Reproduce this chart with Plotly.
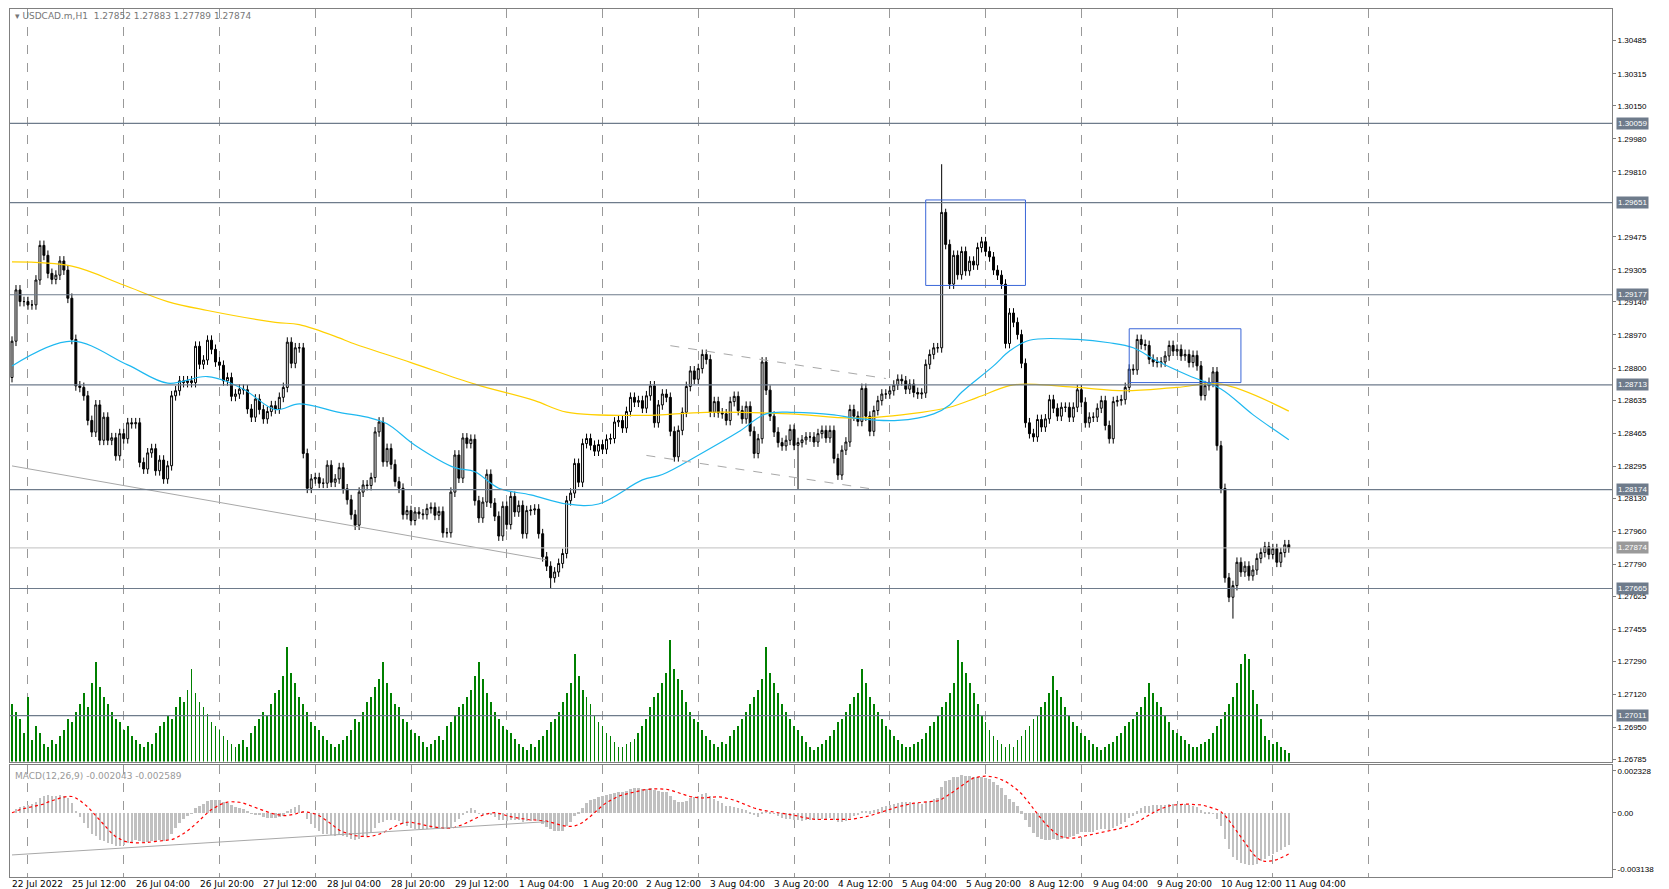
import plotly.graph_objects as go
from plotly.subplots import make_subplots
import pandas as pd

# USDCAD H1 closes (bar 0 = 22 Jul 2022)
first_open = 1.28751
closes = [
    # 22 Jul - 26 Jul
    1.28938, 1.29202, 1.29142, 1.29142, 1.29125, 1.29125, 1.29253, 1.29431, 1.29380, 1.29287,
    1.29256, 1.29278, 1.29351, 1.29304, 1.29159, 1.28947, 1.28708, 1.28700, 1.28657, 1.28530,
    1.28470, 1.28610, 1.28428, 1.28547, 1.28428, 1.28441, 1.28348, 1.28462, 1.28436, 1.28518,
    1.28513, 1.28518, 1.28314, 1.28280, 1.28363, 1.28385, 1.28271, 1.28326, 1.28229, 1.28297,
    1.28657, 1.28683, 1.28734, 1.28725, 1.28734, 1.28725, 1.28912, 1.28819, 1.28841, 1.28943,
    1.28896, 1.28831, 1.28814, 1.28734, 1.28751, 1.28654, 1.28666, 1.28691, 1.28688, 1.28589,
    1.28547, 1.28640, 1.28586, 1.28538, 1.28576, 1.28606, 1.28589, 1.28649, 1.28700, 1.28933,
    1.28824, 1.28904, 1.28904, 1.28360, 1.28181, 1.28229, 1.28236, 1.28207, 1.28207, 1.28300,
    1.28212, 1.28229,
    # 28 Jul - 2 Aug
    1.28287, 1.28178, 1.28122, 1.28045, 1.27991, 1.28161, 1.28198, 1.28195, 1.28236, 1.28471,
    1.28522, 1.28317, 1.28386, 1.28304, 1.28215, 1.28181, 1.28045, 1.28066, 1.28015, 1.28059,
    1.28049, 1.28045, 1.28076, 1.28083, 1.28042, 1.28062, 1.27952, 1.27952, 1.28161, 1.28352,
    1.28233, 1.28440, 1.28411, 1.28433, 1.28117, 1.28028, 1.28110, 1.28253, 1.28105, 1.28037,
    1.27935, 1.28088, 1.27994, 1.28139, 1.28059, 1.28093, 1.27947, 1.28066, 1.28069, 1.28074,
    1.27947, 1.27828, 1.27780, 1.27720, 1.27750, 1.27794, 1.27845, 1.28117, 1.28156, 1.28309,
    1.28212, 1.28411, 1.28437, 1.28402, 1.28372, 1.28406, 1.28382, 1.28433, 1.28437, 1.28522,
    1.28530, 1.28491, 1.28576, 1.28649, 1.28624, 1.28632, 1.28593,
    # 2 Aug - 5 Aug
    1.28657, 1.28708, 1.28518, 1.28610, 1.28666, 1.28649, 1.28474, 1.28343, 1.28479, 1.28572,
    1.28705, 1.28785, 1.28742, 1.28797, 1.28870, 1.28844, 1.28572, 1.28627, 1.28569, 1.28564,
    1.28530, 1.28627, 1.28654, 1.28581, 1.28538, 1.28603, 1.28474, 1.28360, 1.28436, 1.28831,
    1.28686, 1.28552, 1.28470, 1.28416, 1.28399, 1.28428, 1.28484, 1.28402, 1.28416, 1.28430,
    1.28445, 1.28445, 1.28419, 1.28462, 1.28479, 1.28440, 1.28479, 1.28334, 1.28249, 1.28377,
    1.28419, 1.28586, 1.28552, 1.28525, 1.28695, 1.28552, 1.28474, 1.28581, 1.28632, 1.28666,
    1.28666, 1.28683, 1.28712, 1.28742, 1.28734, 1.28691, 1.28717, 1.28674, 1.28666, 1.28671,
    1.28819, 1.28870, 1.28904, 1.28904, 1.29601, 1.29436,
    # 5 Aug - 10 Aug
    1.29232, 1.29380, 1.29280, 1.29400, 1.29300, 1.29350, 1.29330, 1.29420, 1.29450, 1.29400,
    1.29372, 1.29304, 1.29278, 1.29232, 1.28926, 1.29083, 1.29035, 1.28972, 1.28824, 1.28518,
    1.28462, 1.28445, 1.28535, 1.28496, 1.28538, 1.28637, 1.28593, 1.28552, 1.28598, 1.28598,
    1.28547, 1.28598, 1.28688, 1.28624, 1.28518, 1.28547, 1.28547, 1.28593, 1.28632, 1.28504,
    1.28436, 1.28627, 1.28632, 1.28637, 1.28700, 1.28794, 1.28790, 1.28947, 1.28921, 1.28916,
    1.28845, 1.28831, 1.28828, 1.28831, 1.28862, 1.28916, 1.28887, 1.28896, 1.28862, 1.28870,
    1.28828, 1.28865, 1.28811, 1.28658, 1.28709, 1.28726, 1.28780,
    # 10 Aug - 11 Aug
    1.28400, 1.28180, 1.27720, 1.27620, 1.27680, 1.27800, 1.27750, 1.27780, 1.27730, 1.27760,
    1.27820, 1.27850, 1.27880, 1.27840, 1.27870, 1.27800, 1.27850, 1.27890, 1.27874,
]
wick = 0.00025
high_marks = {233: 1.29849, 234: 1.29620}
low_marks = {135: 1.27665, 306: 1.27510, 197: 1.28174}

volumes = [40, 35, 30, 20, 45, 15, 25, 20, 12,
    10, 15, 12, 18, 22, 30, 28, 35, 40, 48, 38, 55, 70, 52, 45, 40, 35, 30, 28, 22, 25, 18, 15, 12,
    10, 14, 12, 20, 25, 28, 32, 30, 38, 45, 42, 50, 65, 48, 42, 38, 33, 28, 25, 22, 18, 15, 12, 10,
    12, 15, 10, 20, 25, 30, 35, 32, 40, 48, 50, 60, 80, 62, 55, 45, 40, 35, 28, 25, 22, 18, 15, 12,
    10, 12, 15, 18, 22, 30, 28, 35, 42, 45, 52, 58, 70, 55, 48, 40, 38, 30, 28, 22, 20, 18, 14, 10,
    12, 15, 18, 15, 25, 28, 32, 38, 40, 45, 50, 60, 70, 58, 48, 42, 35, 30, 25, 22, 20, 16, 12, 10,
    8, 12, 10, 15, 18, 22, 28, 30, 35, 42, 48, 55, 75, 60, 50, 45, 40, 32, 28, 25, 20, 18, 14, 10,
    10, 12, 14, 16, 20, 25, 30, 38, 45, 48, 55, 62, 85, 65, 58, 50, 42, 35, 30, 28, 22, 18, 15, 12,
    10, 14, 12, 18, 22, 25, 30, 35, 40, 45, 50, 58, 80, 62, 55, 48, 40, 35, 30, 25, 22, 18, 14, 10,
    8, 10, 12, 15, 18, 22, 28, 30, 35, 40, 45, 48, 65, 55, 45, 40, 35, 30, 25, 22, 18, 15, 12, 10,
    10, 12, 14, 16, 20, 25, 28, 32, 38, 42, 48, 55, 85, 70, 62, 55, 48, 40, 32, 28, 22, 18, 15, 12,
    10, 12, 10, 15, 18, 22, 25, 30, 32, 38, 42, 48, 60, 50, 45, 38, 32, 28, 25, 20, 18, 15, 12, 10,
    8, 10, 12, 14, 18, 20, 25, 28, 30, 35, 38, 45, 55, 48, 42, 38, 32, 28, 22, 20, 18, 15, 12, 10,
    10, 12, 14, 16, 20, 25, 30, 35, 40, 45, 55, 68, 75, 72, 50, 40, 30, 18, 15, 12, 14, 10, 8, 6]

# moving averages
ma_fast_bars = [0, 15, 29, 39, 49, 58, 66, 72, 82, 89, 94, 101, 111, 116, 122, 130, 139, 147, 158,
                163, 172, 182, 189, 196, 206, 211, 222, 231, 235, 238, 246, 250, 255, 267, 275, 281,
                287, 295, 303, 311, 320]
ma_fast = [1.28810, 1.28938, 1.28816, 1.28722, 1.28756, 1.28691, 1.28586, 1.28615, 1.28572, 1.28547,
           1.28513, 1.28403, 1.28287, 1.28266, 1.28181, 1.28147, 1.28100, 1.28100, 1.28224, 1.28252,
           1.28351, 1.28470, 1.28564, 1.28572, 1.28559, 1.28542, 1.28530, 1.28564, 1.28610, 1.28675,
           1.28811, 1.28887, 1.28943, 1.28947, 1.28930, 1.28904, 1.28836, 1.28760, 1.28692, 1.28560,
           1.28431]
ma_slow_bars = [0, 15, 28, 39, 49, 66, 72, 82, 85, 100, 116, 131, 139, 158, 174, 195, 211, 228, 235,
                242, 250, 254, 267, 279, 292, 303, 320]
ma_slow = [1.29346, 1.29324, 1.29227, 1.29142, 1.29096, 1.29035, 1.29023, 1.28955, 1.28930, 1.28828,
           1.28717, 1.28632, 1.28573, 1.28556, 1.28572, 1.28564, 1.28542, 1.28572, 1.28598, 1.28649,
           1.28709, 1.28717, 1.28700, 1.28683, 1.28700, 1.28717, 1.28578]

levels = [1.30059, 1.29651, 1.29177, 1.28713, 1.28174, 1.27665, 1.27011]
last_price = 1.27874
price_ticks = [1.30485, 1.30315, 1.30150, 1.29980, 1.29810, 1.29475, 1.29305, 1.29140, 1.28970,
               1.28800, 1.28635, 1.28465, 1.28295, 1.28130, 1.27960, 1.27790, 1.27625, 1.27455,
               1.27290, 1.27120, 1.26950, 1.26785]
date_labels = ["25 Jul 12:00", "26 Jul 04:00", "26 Jul 20:00", "27 Jul 12:00", "28 Jul 04:00",
               "28 Jul 20:00", "29 Jul 12:00", "1 Aug 04:00", "1 Aug 20:00", "2 Aug 12:00",
               "3 Aug 04:00", "3 Aug 20:00", "4 Aug 12:00", "5 Aug 04:00", "5 Aug 20:00",
               "8 Aug 12:00", "9 Aug 04:00", "9 Aug 20:00", "10 Aug 12:00", "11 Aug 04:00"]

# drawn objects: boxes and trend lines (bar index, price)
boxes = [(229, 254, 1.29665, 1.29225), (280, 308, 1.29002, 1.28725)]
trend_solid = [(0, 1.28296), (134, 1.27812)]
channel_top = [(165, 1.28915), (219, 1.28746)]
channel_bot = [(159, 1.28350), (216, 1.28176)]
macd_trend = [(0, -0.00233), (134, -0.00049)]

n = len(closes)
bars = list(range(n))
opens = [first_open] + closes[:-1]
highs = [high_marks.get(i, max(o, c) + wick) for i, (o, c) in enumerate(zip(opens, closes))]
lows = [low_marks.get(i, min(o, c) - wick) for i, (o, c) in enumerate(zip(opens, closes))]

s = pd.Series(closes)
macd = s.ewm(span=12, adjust=False).mean() - s.ewm(span=26, adjust=False).mean()
signal = macd.rolling(9, min_periods=1).mean()

FONT = "Liberation Sans"

fig = make_subplots(rows=2, cols=1, shared_xaxes=True, vertical_spacing=0.0034,
                    row_heights=[0.87, 0.13], specs=[[{"secondary_y": True}], [{}]])

fig.add_trace(go.Bar(x=bars, y=volumes[:n], marker=dict(color="#008000", line=dict(width=0)),
                     width=0.22, showlegend=False), row=1, col=1, secondary_y=True)
fig.add_trace(go.Candlestick(x=bars, open=opens, high=highs, low=lows, close=closes,
                             increasing=dict(line=dict(color="black", width=1), fillcolor="white"),
                             decreasing=dict(line=dict(color="black", width=1), fillcolor="black"),
                             whiskerwidth=0, showlegend=False), row=1, col=1)
fig.add_trace(go.Scatter(x=ma_slow_bars, y=ma_slow, mode="lines", line=dict(color="#FFD000", width=1.2),
                         line_shape="spline", showlegend=False), row=1, col=1)
fig.add_trace(go.Scatter(x=ma_fast_bars, y=ma_fast, mode="lines", line=dict(color="#1EB8F0", width=1.2),
                         line_shape="spline", showlegend=False), row=1, col=1)
for pts, dash, col in [(trend_solid, "solid", "#A8A8A8"), (channel_top, "dash", "#A8A8A8"),
                       (channel_bot, "dash", "#A8A8A8")]:
    fig.add_trace(go.Scatter(x=[p[0] for p in pts], y=[p[1] for p in pts], mode="lines",
                             line=dict(color=col, width=1, dash=dash), showlegend=False), row=1, col=1)

fig.add_trace(go.Bar(x=bars, y=macd, marker=dict(color="#C0C0C0", line=dict(width=0)), width=0.6,
                     showlegend=False), row=2, col=1)
fig.add_trace(go.Scatter(x=bars, y=signal, mode="lines", line=dict(color="red", width=1.2, dash="dot"),
                         showlegend=False), row=2, col=1)
fig.add_trace(go.Scatter(x=[p[0] for p in macd_trend], y=[p[1] for p in macd_trend], mode="lines",
                         line=dict(color="#A8A8A8", width=1), showlegend=False), row=2, col=1)

for lv in levels:
    fig.add_hline(y=lv, line=dict(color="#6E7B8B", width=1.2), row=1, col=1)
fig.add_hline(y=last_price, line=dict(color="#C0C0C0", width=1), row=1, col=1)
for x0, x1, y0, y1 in boxes:
    fig.add_shape(type="rect", x0=x0, x1=x1, y0=y0, y1=y1, line=dict(color="#3A66D8", width=1),
                  row=1, col=1)

for lv in levels + [last_price]:
    fig.add_annotation(x=1.0, xref="paper", y=lv, yref="y", text=f"{lv:.5f}", showarrow=False,
                       xanchor="left", xshift=4, bgcolor="#6E7B8B" if lv != last_price else "#9A9A9A",
                       font=dict(size=8, color="white", family=FONT), borderpad=1)

for k, lab in enumerate(["22 Jul 2022"] + date_labels):
    fig.add_annotation(x=16 * k - 1.5 if k else -0.5, xref="x2", y=0, yref="paper", yshift=0,
                       text=lab, showarrow=False, xanchor="left", yanchor="top",
                       font=dict(size=9, color="black", family="DejaVu Sans"))

fig.add_annotation(x=0.002, xref="paper", y=1, yref="paper", yanchor="top", xanchor="left",
                   text="▾ USDCAD.m,H1  1.27852 1.27883 1.27789 1.27874", showarrow=False,
                   font=dict(size=9, color="#777777", family="DejaVu Sans"))
fig.add_annotation(x=0.002, xref="paper", y=0.124, yref="paper", yanchor="top", xanchor="left",
                   text="MACD(12,26,9) -0.002043 -0.002589", showarrow=False,
                   font=dict(size=9, color="#999999", family="DejaVu Sans"))

grid_bars = list(range(4, 345, 24))
xax = dict(domain=[0, 1], range=[-0.5, 401], tickvals=grid_bars, showticklabels=False, showgrid=True,
           gridcolor="#999999", griddash="dash", gridwidth=1, showline=True, linecolor="#808080",
           mirror=True, zeroline=False, rangeslider=dict(visible=False), ticks="", automargin=False)
fig.update_xaxes(**xax)
yax = dict(side="right", showgrid=False, zeroline=False, showline=True, linecolor="#808080", mirror=True,
           ticks="outside", ticklen=3, tickcolor="#808080", automargin=False,
           tickfont=dict(size=8, color="black", family=FONT))
fig.update_yaxes(range=[1.26774, 1.30648], tickvals=price_ticks, tickformat=".5f", row=1, col=1,
                 secondary_y=False, **yax)
fig.update_yaxes(range=[0, 527], visible=False, row=1, col=1, secondary_y=True)
fig.update_yaxes(range=[-0.00355, 0.00267], tickvals=[0.002328, 0.0, -0.003138],
                 ticktext=["0.002328", "0.00", "-0.003138"], row=2, col=1, **yax)

fig.update_layout(width=1660, height=889, margin=dict(l=2, r=56, t=1, b=20, autoexpand=False),
                  paper_bgcolor="white", plot_bgcolor="white", bargap=0, showlegend=False)
fig.write_html("out.html")
